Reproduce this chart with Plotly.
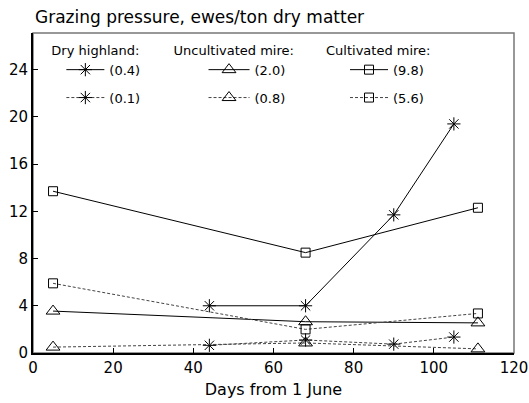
import plotly.graph_objects as go

# ---- data ----
dry_x = [44, 68, 90, 105]
dry_hi = [4.0, 4.0, 11.7, 19.4]      # (0.4)
dry_lo = [0.65, 1.1, 0.75, 1.35]     # (0.1)

unc_x = [5, 68, 111]
unc_hi = [3.55, 2.65, 2.55]          # (2.0)
unc_lo = [0.5, 0.85, 0.35]           # (0.8)

cul_x = [5, 68, 111]
cul_hi = [13.7, 8.5, 12.3]           # (9.8)
cul_lo = [5.9, 2.0, 3.35]            # (5.6)

group_titles = ["Dry highland:", "Uncultivated mire:", "Cultivated mire:"]
labels_hi = ["(0.4)", "(2.0)", "(9.8)"]
labels_lo = ["(0.1)", "(0.8)", "(5.6)"]
x_ticks = [0, 20, 40, 60, 80, 100, 120]
y_ticks = [0, 4, 8, 12, 16, 20, 24]

FONT = "DejaVu Sans"
DASH = "3px,2px"

series = [
    (dry_x, dry_hi, dry_x, dry_lo, "asterisk-open", 11),
    (unc_x, unc_hi, unc_x, unc_lo, "triangle-up-open", 12),
    (cul_x, cul_hi, cul_x, cul_lo, "square-open", 9),
]

fig = go.Figure()
for i, (xh, yh, xl, yl, sym, sz) in enumerate(series):
    leg = "legend" if i == 0 else f"legend{i+1}"
    fig.add_trace(go.Scatter(
        x=xh, y=yh, mode="lines+markers", name=labels_hi[i],
        line=dict(color="black", width=1),
        marker=dict(symbol=sym, size=sz, color="black", line=dict(width=1, color="black")),
        legend=leg, legendgroup=f"g{i}a"))
    fig.add_trace(go.Scatter(
        x=xl, y=yl, mode="lines+markers", name=labels_lo[i],
        line=dict(color="#444", width=1, dash=DASH),
        marker=dict(symbol=sym, size=sz, color="black", line=dict(width=1, color="black")),
        legend=leg, legendgroup=f"g{i}b"))

legend_common = dict(
    bgcolor="rgba(0,0,0,0)", borderwidth=0, font=dict(family=FONT, size=13, color="black"),
    xanchor="left", yanchor="top", tracegroupgap=8,
)
# left edge of each legend (paper fraction) and item indentation / gap
lx = [0.034, 0.288, 0.605]
indent = [12, 32, 21]
iw = [38, 41, 38]
for i in range(3):
    key = "legend" if i == 0 else f"legend{i+1}"
    fig.update_layout(**{key: dict(
        legend_common, x=lx[i], y=0.985, itemwidth=iw[i],
        title=dict(text=group_titles[i], font=dict(family=FONT, size=13, color="black"), side="top"),
        indentation=indent[i],
    )})

fig.update_layout(
    width=529, height=403,
    margin=dict(l=33, r=15, t=33, b=50),
    paper_bgcolor="white", plot_bgcolor="white",
    font=dict(family=FONT, size=15, color="black"),
    showlegend=True,
    shapes=[dict(type="rect", xref="paper", yref="paper", x0=0, x1=1, y0=0, y1=1,
                 line=dict(color="#777", width=1.5), layer="below")],
    annotations=[dict(text="Grazing pressure, ewes/ton dry matter", xref="paper", yref="paper",
                      x=0, y=1, xanchor="left", yanchor="bottom", yshift=4, showarrow=False,
                      font=dict(family=FONT, size=17, color="black"))],
)
fig.update_xaxes(
    range=[0, 120], tickvals=x_ticks, ticks="inside", ticklen=5, tickcolor="black",
    showline=True, linecolor="black", linewidth=2, showgrid=False, zeroline=False,
    title=dict(text="Days from 1 June", font=dict(family=FONT, size=16), standoff=8),
    tickfont=dict(family=FONT, size=15), automargin=False,
)
fig.update_yaxes(
    range=[0, 27.1], tickvals=y_ticks, ticks="inside", ticklen=5, tickcolor="black",
    showline=True, linecolor="black", linewidth=2, showgrid=False, zeroline=False,
    tickfont=dict(family=FONT, size=15), automargin=False,
)

fig.write_html("out.html")
